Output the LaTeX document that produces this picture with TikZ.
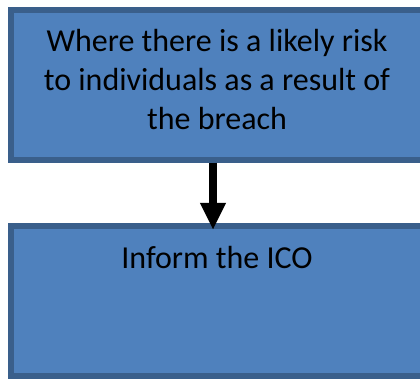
\documentclass[tikz,border=0pt]{standalone}
\usepackage{fontspec}
\setmainfont{Carlito}
\usetikzlibrary{arrows.meta}
\definecolor{boxfill}{HTML}{4F81BD}
\definecolor{boxline}{HTML}{3A5F8B}
\begin{document}
\begin{tikzpicture}[x=1pt,y=-1pt,
  box/.style={draw=boxline, fill=boxfill, line width=6pt, minimum width=412pt, minimum height=150pt, inner sep=0pt},
  txt/.style={font=\fontsize{32}{39}\selectfont, align=center, text=black, inner sep=0pt},
  flow/.style={line width=8pt, -{Triangle[width=24pt,length=27pt]}}]
\useasboundingbox (0,0) rectangle (420,379);
\clip (0,0) rectangle (420,379);
\node[box] (b1) at (217,85) {};
\node[box] (b2) at (217,301) {};
\node[txt] (t1) at (217,80) {Where there is a likely risk\\to individuals as a result of\\the breach};
\node[txt, anchor=base] (t2) at (217,269) {Inform the ICO};
\draw[flow] ([xshift=-4pt]b1.south) -- ([xshift=-4pt,yshift=-7pt]b2.north);
\end{tikzpicture}
\end{document}
